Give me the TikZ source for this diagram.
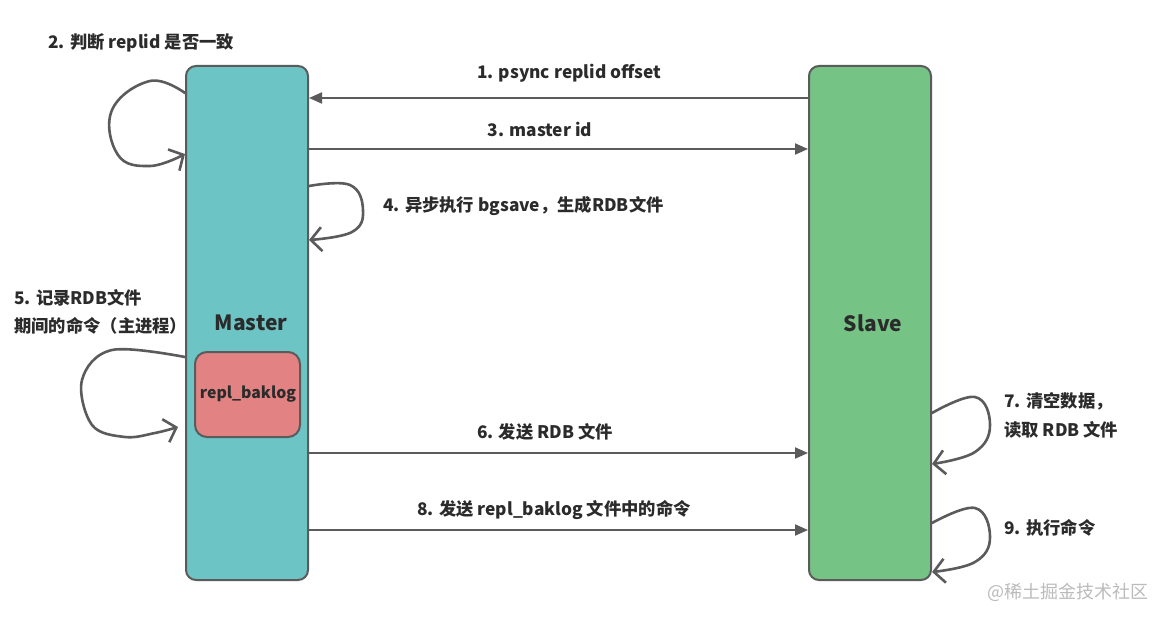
\documentclass[tikz,border=0pt]{standalone}
\usepackage{fontspec}
\setmainfont{Noto Sans CJK SC}
\usetikzlibrary{arrows.meta}
\definecolor{edge}{HTML}{5B5B5B}
\definecolor{ink}{HTML}{2B2B2B}
\definecolor{teal}{HTML}{6CC4C4}
\definecolor{sgreen}{HTML}{76C386}
\definecolor{rred}{HTML}{E38282}
\definecolor{wm}{HTML}{BBBBBB}
\tikzset{
  lane/.style={draw=edge, line width=2pt, rounded corners=10pt, minimum width=122pt, minimum height=514pt, inner sep=0pt},
  buf/.style={draw=edge, line width=2pt, rounded corners=12pt, fill=rred, minimum width=105pt, minimum height=85pt, inner sep=0pt},
  title/.style={font=\fontsize{21}{24}\selectfont\bfseries, text=ink},
  lbl/.style={font=\fontsize{17.3}{20}\selectfont\bfseries, text=ink, inner sep=0pt},
  msg/.style={draw=edge, line width=2pt, -{Triangle[length=13pt,width=11pt]}},
  selfloop/.style={draw=edge, line width=2.6pt, line cap=round, line join=round, -{Straight Barb[length=11pt,width=24pt,line width=2.6pt]}}
}
\begin{document}
\begin{tikzpicture}[x=1pt,y=-1pt]
\useasboundingbox (0,0) rectangle (1166,620);
\fill[white] (0,0) rectangle (1166,620);

% lanes
\node[lane, fill=teal] (master) at (247,323) {};
\node[lane, fill=sgreen] (slave) at (870,323) {};
\node[title] (mastertxt) at (251,323) {Master};
\node[title] (slavetxt) at (873,323) {Slave};
\node[buf] (baklog) at (247.5,394.5) {};
\node[font=\fontsize{15.8}{18}\selectfont\bfseries, text=ink] (baklogtxt) at (248,394) {repl\_baklog};

% message levels
\coordinate (y1) at (0,98);
\coordinate (y3) at (0,149);
\coordinate (y6) at (0,453);
\coordinate (y8) at (0,530);

\draw[msg] (slave.west |- y1) -- (master.east |- y1);
\draw[msg] (master.east |- y3) -- (slave.west |- y3);
\draw[msg] (master.east |- y6) -- (slave.west |- y6);
\draw[msg] (master.east |- y8) -- (slave.west |- y8);

\node[lbl] (l1) at (569,73) {1. psync replid offset};
\node[lbl] (l3) at (540,129) {3. master id};
\node[lbl] (l6) at (545,432) {6. 发送 RDB 文件};
\node[lbl] (l8) at (554,510) {8. 发送 repl\_baklog 文件中的命令};

% side labels
\node[lbl, anchor=west] (l2) at (48,43) {2. 判断 replid 是否一致};
\node[lbl, anchor=west] (l4) at (383,206) {4. 异步执行 bgsave，生成RDB文件};
\node[lbl, anchor=west] (l5a) at (14,298) {5. 记录RDB文件};
\node[lbl, anchor=west] (l5b) at (14,326) {期间的命令（主进程）};
\node[lbl, anchor=west] (l7a) at (1004,401) {7. 清空数据，};
\node[lbl, anchor=west] (l7b) at (1004,430) {读取 RDB 文件};
\node[lbl, anchor=west] (l9) at (1004,528) {9. 执行命令};
\node[font=\fontsize{18}{20}\selectfont, text=wm, anchor=west, inner sep=0pt] (wmk) at (987,592) {@稀土掘金技术社区};

% self loops
\coordinate (a2) at (master.west |- 0,93);
\coordinate (b2) at (master.west |- 0,154);
\draw[selfloop] plot[smooth, tension=0.7] coordinates {(a2) (150,81) (112,110) (118,155) (150,166) (b2)};

\coordinate (a4) at (master.east |- 0,186);
\coordinate (b4) at (master.east |- 0,240);
\draw[selfloop] plot[smooth, tension=0.7] coordinates {(a4) (350,185) (363,210) (352,232) (b4)};

\coordinate (a5) at (master.west |- 0,357);
\coordinate (b5) at (178,427);
\draw[selfloop] plot[smooth, tension=0.6] coordinates {(a5) (112,350) (82,380) (92,425) (125,437) (155,433) (b5)};

\coordinate (a7) at (slave.east |- 0,413);
\coordinate (b7) at (slave.east |- 0,464);
\draw[selfloop] plot[smooth, tension=0.7] coordinates {(a7) (975,397) (990,425) (975,452) (b7)};

\coordinate (a9) at (slave.east |- 0,523);
\coordinate (b9) at (slave.east |- 0,572);
\draw[selfloop] plot[smooth, tension=0.7] coordinates {(a9) (975,508) (990,537) (975,562) (b9)};
\end{tikzpicture}
\end{document}
